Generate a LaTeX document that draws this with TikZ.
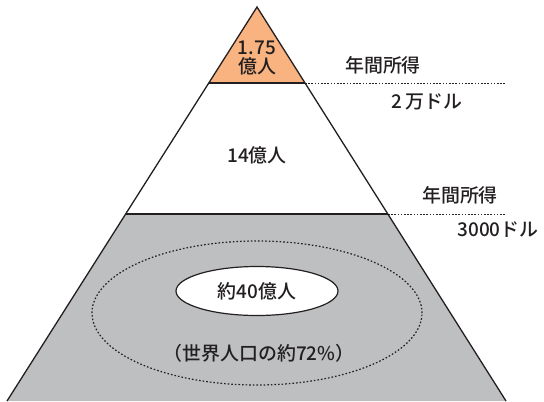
\documentclass[tikz,border=0pt]{standalone}
\usepackage{fontspec}
\usetikzlibrary{shapes.geometric}
\setmainfont{Noto Sans CJK JP}[BoldFont={Noto Sans CJK JP Medium}]
\definecolor{topor}{HTML}{F8B381}
\definecolor{lowgr}{HTML}{BEBFC1}
\definecolor{ink}{HTML}{231F20}
\begin{document}
\begin{tikzpicture}[x=1bp,y=-1bp,
  lbl/.style={inner sep=0pt,font=\fontsize{19}{21}\selectfont\bfseries,text=ink,align=center},
  edge/.style={draw=ink,line width=1.3bp},
  lead/.style={draw=ink,line width=0.8bp,dash pattern=on 1.6bp off 1.6bp},
  ring/.style={draw=ink,line width=1.2bp,dash pattern=on 1.6bp off 2bp}]
\useasboundingbox (0,0) rectangle (544,401);
% corners
\coordinate (apex) at (257,7);
\coordinate (ol) at (209,83);
\coordinate (or) at (305,83);
\coordinate (ml) at (126,214);
\coordinate (mr) at (388,214);
\coordinate (bl) at (7,401);
\coordinate (br) at (506,401);
% fills
\fill[topor] (apex) -- (or) -- (ol) -- cycle;
\fill[white] (ol) -- (or) -- (mr) -- (ml) -- cycle;
\fill[lowgr] (ml) -- (mr) -- (br) -- (bl) -- cycle;
% outline
\draw[edge] (bl) -- (apex) -- (br);
\draw[edge] (ol) -- (or);
\draw[edge] (ml) -- (mr);
% leaders
\coordinate (e1) at (505,83);
\coordinate (e2) at (505,214);
\draw[lead] (or) -- (e1);
\draw[lead] (mr) -- (e2);
% dotted ellipse
\node[ring,ellipse,minimum width=330bp,minimum height=144bp,inner sep=0pt] (ring) at (257,313) {};
% white ellipse
\node[edge,line width=1.2bp,fill=white,ellipse,minimum width=162bp,minimum height=49bp,inner sep=0pt] (oval) at (257,291) {};
% labels
\node[lbl] (top) at (257,58) {1.75\\[-2bp]億人};
\node[lbl] (mid) at (257,155) {14億人};
\node[lbl] (low) at (257,291) {約40億人};
\node[lbl] (pct) at (259,353) {（世界人口の約72\%）};
\node[lbl] (i1) at (383,65) {年間所得};
\node[lbl] (v1) at (427,102) {2\,万ドル};
\node[lbl] (i2) at (460,195) {年間所得};
\node[lbl] (v2) at (498,230) {3000ドル};
\end{tikzpicture}
\end{document}
